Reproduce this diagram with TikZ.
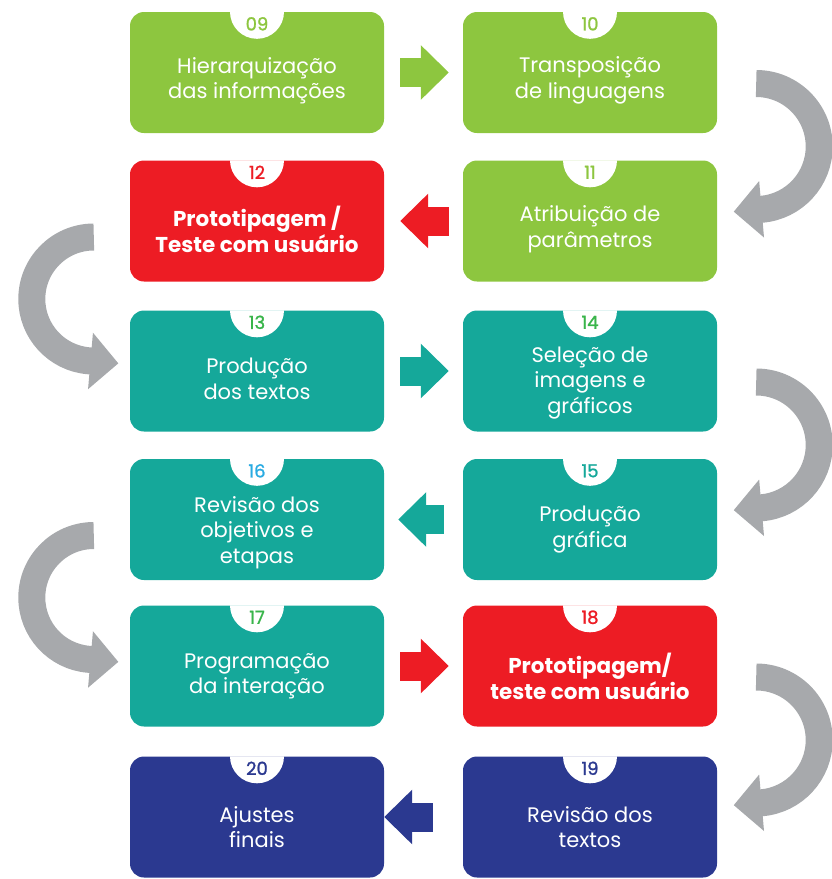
\documentclass[tikz,border=0pt]{standalone}
\usepackage{fontspec}
\setmainfont{Poppins}
\newfontfamily\tabfont{Poppins}[FakeBold=1.2]
\usetikzlibrary{arrows.meta}
\definecolor{leaf}{HTML}{8DC63F}
\definecolor{alert}{HTML}{ED1C24}
\definecolor{sea}{HTML}{15A89A}
\definecolor{navy}{HTML}{2B3990}
\definecolor{stone}{HTML}{A7A9AC}
\definecolor{mint}{HTML}{39B54A}
\definecolor{sky}{HTML}{29ABE2}
\begin{document}
\begin{tikzpicture}[x=1pt,y=1pt]
\useasboundingbox (0,0) rectangle (832,-879);
\tikzset{
  stage/.style={fill=#1, rounded corners=14pt, minimum width=254pt,
    minimum height=121pt, inner sep=0pt},
  lbl/.style={text=white, align=center, font=\fontsize{21}{25.5}\selectfont},
  strong/.style={lbl, font=\fontsize{21.5}{26}\selectfont\bfseries},
  num/.style={text=#1, font=\tabfont\fontsize{18}{18}\selectfont},
  flat/.style={draw=#1, line width=29pt,
    -{Triangle[width=53pt,length=28pt]}},
  turn/.style={draw=stone, line width=27pt,
    -{Triangle[width=55pt,length=28pt]}},
}
% stage boxes
\node[stage=leaf]  (b09) at (257,-72.5) {};
\node[stage=leaf]  (b10) at (590,-72.5) {};
\node[stage=alert] (b12) at (257,-221) {};
\node[stage=leaf]  (b11) at (590,-221) {};
\node[stage=sea]   (b13) at (257,-371) {};
\node[stage=sea]   (b14) at (590,-371) {};
\node[stage=sea]   (b16) at (257,-519.5) {};
\node[stage=sea]   (b15) at (590,-519.5) {};
\node[stage=sea]   (b17) at (257,-666) {};
\node[stage=alert] (b18) at (590,-666) {};
\node[stage=navy]  (b20) at (257,-817) {};
\node[stage=navy]  (b19) at (590,-817) {};

% number tabs
\foreach \b/\n/\c in {b09/09/leaf, b10/10/leaf, b11/11/leaf, b12/12/alert,
  b13/13/mint, b14/14/mint, b15/15/sea, b16/16/sky, b17/17/mint,
  b18/18/alert, b19/19/navy, b20/20/navy}{
  \fill[white] ([xshift=-27pt]\b.north) arc[start angle=180, end angle=360, radius=27] -- cycle;
  \node[num=\c] (n\n) at ([yshift=-12pt]\b.north) {\n};
}

% stage labels
\node[lbl] (t09) at ([yshift=-8pt]b09.center) {Hierarquização\\das informações};
\node[lbl] (t10) at ([yshift=-8pt]b10.center) {Transposição\\de linguagens};
\node[lbl] (t11) at ([yshift=-8pt]b11.center) {Atribuição de\\parâmetros};
\node[strong] (t12) at ([yshift=-8pt]b12.center) {Prototipagem /\\Teste com usuário};
\node[lbl] (t13) at ([yshift=-8pt]b13.center) {Produção\\dos textos};
\node[lbl] (t14) at ([yshift=-12pt]b14.center) {Seleção de\\imagens e\\gráficos};
\node[lbl] (t15) at ([yshift=-10pt]b15.center) {Produção\\gráfica};
\node[lbl] (t16) at ([yshift=-13pt]b16.center) {Revisão dos\\objetivos e\\etapas};
\node[lbl] (t17) at ([yshift=-10pt]b17.center) {Programação\\da interação};
\node[strong] (t18) at ([yshift=-10pt]b18.center) {Prototipagem/\\teste com usuário};
\node[lbl] (t19) at ([yshift=-10pt]b19.center) {Revisão dos\\textos};
\node[lbl] (t20) at ([yshift=-10pt]b20.center) {Ajustes\\finais};

% straight connectors between neighbours
\draw[flat=leaf]  ([xshift=16pt]b09.east) -- ([xshift=-14pt]b10.west);
\draw[flat=alert] ([xshift=-14pt]b11.west) -- ([xshift=16pt]b12.east);
\draw[flat=sea]   ([xshift=16pt]b13.east) -- ([xshift=-14pt]b14.west);
\draw[flat=sea]   ([xshift=-19pt]b15.west) -- ([xshift=14pt]b16.east);
\draw[flat=alert] ([xshift=16pt]b17.east) -- ([xshift=-14pt]b18.west);
\draw[flat=navy]  ([xshift=-30pt]b19.west) -- (b20.east);

% turning connectors between rows
\draw[turn] ([shift={(39pt,-11pt)}]b10.east) arc[start angle=90, end angle=-85, radius=63] -- ++(-28,-2.4);
\draw[turn] ([shift={(39pt,-11pt)}]b14.east) arc[start angle=90, end angle=-85, radius=63] -- ++(-28,-2.4);
\draw[turn] ([shift={(39pt,-11pt)}]b18.east) arc[start angle=90, end angle=-85, radius=63] -- ++(-28,-2.4);
\draw[turn] ([shift={(-36pt,-16pt)}]b12.west) arc[start angle=90, end angle=265, radius=62] -- ++(30,-2.6);
\draw[turn] ([shift={(-36pt,-16pt)}]b16.west) arc[start angle=90, end angle=265, radius=62] -- ++(30,-2.6);
\end{tikzpicture}
\end{document}
